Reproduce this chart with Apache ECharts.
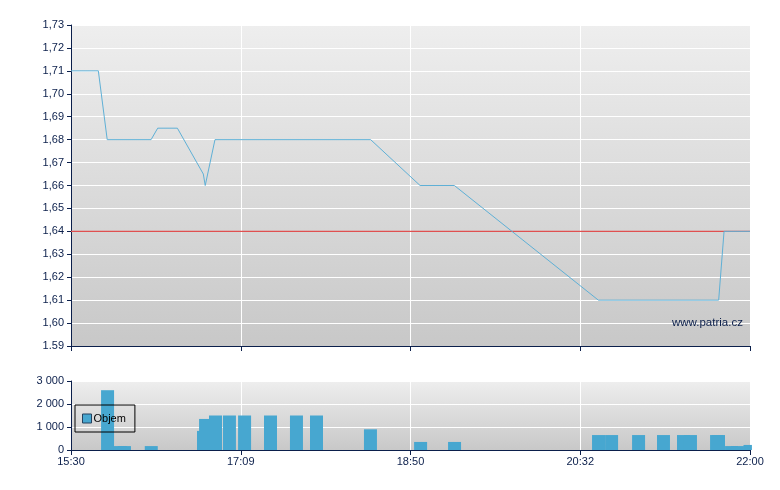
<!DOCTYPE html>
<html lang="cs">
<head>
    <meta charset="UTF-8">
    <title>Objem</title>
    <style>
        html, body { margin: 0; padding: 0; background: #fff; }
        #main { width: 780px; height: 490px; }
    </style>
</head>
<body>
<div id="main"></div>
<script src="https://cdn.jsdelivr.net/npm/echarts@6/dist/echarts.min.js"></script>
<script>
    // x values are minutes after 15:30 (plot spans 15:30 - 22:00)
    var timeLabels = ['15:30', '17:09', '18:50', '20:32', '22:00'];
    var priceLabels = ['1.59', '1,60', '1,61', '1,62', '1,63', '1,64', '1,65', '1,66',
                       '1,67', '1,68', '1,69', '1,70', '1,71', '1,72', '1,73'];
    var volLabels = ['0', '1 000', '2 000', '3 000'];

    var priceMin = [0, 15.7, 20.8, 46.0, 49.8, 61.1, 76.0, 77.1, 82.7, 172.1, 200.5, 220.2, 302.9, 372.0, 375.1, 390];
    var price = [1.71, 1.71, 1.68, 1.68, 1.685, 1.685, 1.665, 1.66, 1.68, 1.68, 1.66, 1.66, 1.61, 1.61, 1.64, 1.64];
    var prevClose = 1.64;

    var volMin = [21.0, 28.4, 30.7, 46.1, 76.1, 77.3, 83.0, 91.0, 99.7, 114.6, 129.5, 141.0, 172.0,
                  200.8, 220.3, 303.0, 310.5, 326.0, 340.3, 351.8, 355.8, 370.8, 371.9, 379.4, 382.8, 390];
    var volume = [2600, 170, 170, 170, 830, 1350, 1500, 1500, 1500, 1500, 1500, 1500, 900,
                  350, 350, 650, 650, 650, 650, 650, 650, 650, 650, 170, 170, 220];

    var navy = '#0b1f4b';
    var font = 'Liberation Sans, Arial, sans-serif';

    function bg() {
        return new echarts.graphic.LinearGradient(0, 0, 0, 1, [
            {offset: 0, color: '#eeeeee'},
            {offset: 1, color: '#c8c8c8'}
        ]);
    }

    var priceData = priceMin.map(function (m, i) { return [m, price[i]]; });
    var volData = volMin.map(function (m, i) { return [m, volume[i]]; });
    // previous close reference line across the whole session
    var closeData = [[0, prevClose], [390, prevClose]];

    var xAxisBase = {
        type: 'value',
        min: 0,
        max: 390,
        interval: 97.5,
        axisLine: {lineStyle: {color: navy, width: 1}},
        axisTick: {show: true, length: 5, lineStyle: {color: navy}},
        splitLine: {show: true, lineStyle: {color: '#ffffff', width: 1}}
    };

    var myChart = echarts.init(document.getElementById('main'));
    var option = {
        animation: false,
        textStyle: {fontFamily: font},
        grid: [
            {left: 71, top: 25, width: 679, height: 321, show: true, borderWidth: 0, backgroundColor: bg()},
            {left: 71, top: 381, width: 679, height: 69, show: true, borderWidth: 0, backgroundColor: bg()}
        ],
        legend: {
            data: ['Objem'],
            left: 75,
            top: 405,
            orient: 'vertical',
            borderColor: '#000',
            borderWidth: 1,
            borderRadius: 0,
            padding: [8, 9, 8, 7],
            icon: 'rect',
            itemWidth: 9,
            itemHeight: 9,
            itemGap: 4,
            itemStyle: {borderColor: '#23415f', borderWidth: 1},
            textStyle: {fontSize: 11, color: '#000', fontFamily: font, padding: [0, 0, 0, -3]}
        },
        xAxis: [
            Object.assign({}, xAxisBase, {
                gridIndex: 0,
                axisLabel: {show: false}
            }),
            Object.assign({}, xAxisBase, {
                gridIndex: 1,
                axisLabel: {
                    show: true, color: navy, fontSize: 11, margin: 6,
                    formatter: function (v) { return timeLabels[Math.round(v / 97.5)]; }
                }
            })
        ],
        yAxis: [
            {
                type: 'value',
                gridIndex: 0,
                min: 1.59,
                max: 1.73,
                interval: 0.01,
                axisLine: {show: true, lineStyle: {color: navy}},
                axisTick: {show: true, length: 4, lineStyle: {color: navy}},
                splitLine: {show: true, lineStyle: {color: '#ffffff'}},
                axisLabel: {
                    color: navy, fontSize: 11, margin: 7,
                    formatter: function (v) { return priceLabels[Math.round((v - 1.59) * 100)]; }
                }
            },
            {
                type: 'value',
                gridIndex: 1,
                min: 0,
                max: 3000,
                interval: 1000,
                axisLine: {show: true, lineStyle: {color: navy}},
                axisTick: {show: true, length: 4, lineStyle: {color: navy}},
                splitLine: {show: true, lineStyle: {color: '#ffffff'}},
                axisLabel: {
                    color: navy, fontSize: 11, margin: 7,
                    formatter: function (v) { return volLabels[Math.round(v / 1000)]; }
                }
            }
        ],
        graphic: [
            {
                type: 'text',
                left: 672,
                top: 317,
                z: 10,
                style: {text: 'www.patria.cz', fill: navy, font: '11.5px ' + font}
            }
        ],
        series: [
            {
                name: 'Close',
                type: 'line',
                xAxisIndex: 0,
                yAxisIndex: 0,
                data: closeData,
                symbol: 'none',
                silent: true,
                z: 2,
                lineStyle: {color: '#e05050', width: 1.2}
            },
            {
                name: 'Cena',
                type: 'line',
                xAxisIndex: 0,
                yAxisIndex: 0,
                data: priceData,
                symbol: 'none',
                z: 3,
                lineStyle: {color: '#5fb0d6', width: 1}
            },
            {
                name: 'Objem',
                type: 'bar',
                xAxisIndex: 1,
                yAxisIndex: 1,
                data: volData,
                barWidth: 13,
                clip: true,
                itemStyle: {color: '#47a7d0'}
            }
        ]
    };
    myChart.setOption(option);
</script>
</body>
</html>
